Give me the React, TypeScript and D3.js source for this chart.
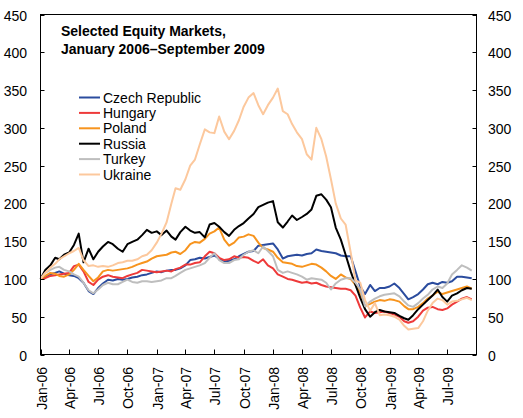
import React, { useEffect, useRef } from "react";
import * as d3 from "d3";

// index values, twice a month (1st and 16th), Jan 2006 - Sep 2009
const czech = [
  100, 103, 106, 108, 110, 107, 105, 104, 101, 95, 84, 80, 88, 94, 99, 98, 100, 99, 100, 102,
  103, 105, 106, 108, 110, 109, 111, 112, 112, 114, 118, 125, 126, 128, 127, 129, 131, 127, 123, 124,
  126, 130, 133, 136, 137, 144, 145, 146, 147, 139, 127, 130, 131, 132, 131, 133, 134, 139, 137, 136,
  135, 134, 131, 130, 130, 110, 90, 80, 92, 84, 88, 88, 90, 94, 88, 80, 73, 76, 80, 86,
  93, 95, 93, 96, 95, 97, 103, 103, 102, 101,
];
const hungary = [
  100, 101, 104, 105, 106, 107, 108, 117, 119, 110, 96, 92, 99, 103, 105, 103, 102, 101, 104, 106,
  108, 112, 111, 110, 109, 110, 111, 110, 113, 115, 119, 119, 121, 122, 130, 136, 134, 128, 125, 126,
  130, 128, 129, 128, 124, 121, 126, 118, 114, 106, 103, 100, 99, 97, 95, 96, 94, 95, 92, 90,
  89, 88, 87, 87, 85, 78, 62, 49, 57, 55, 56, 57, 55, 53, 50, 44, 42, 44, 50, 58,
  62, 63, 60, 59, 61, 66, 70, 74, 76, 73,
];
const poland = [
  100, 104, 108, 107, 104, 103, 106, 112, 120, 112, 104, 97, 102, 110, 112, 111, 112, 113, 114, 116,
  119, 121, 123, 127, 130, 131, 132, 135, 136, 133, 138, 146, 149, 148, 153, 160, 163, 168, 152, 144,
  148, 155, 156, 159, 157, 148, 141, 139, 136, 128, 122, 121, 120, 117, 116, 118, 120, 119, 115, 110,
  104, 100, 106, 102, 100, 92, 82, 64, 67, 70, 72, 71, 73, 72, 70, 64, 60, 60, 63, 68,
  74, 78, 83, 80, 82, 84, 86, 88, 90, 87,
];
const russia = [
  100, 112, 118, 128, 126, 132, 135, 145, 160, 122, 140, 126, 136, 143, 149, 146, 140, 136, 146, 149,
  152, 158, 165, 161, 163, 158, 164, 156, 152, 162, 169, 164, 161, 162, 155, 172, 174, 169, 162, 157,
  165, 170, 174, 180, 186, 195, 198, 201, 203, 175, 168, 176, 184, 178, 182, 186, 192, 210, 212, 205,
  195, 168, 152, 132, 110, 92, 75, 60, 50, 56, 59, 57, 56, 55, 51, 48, 46, 52, 60, 66,
  72, 78, 86, 76, 70, 78, 81, 85, 88, 87,
];
const turkey = [
  100, 108, 112, 115, 116, 112, 110, 106, 103, 95, 85, 81, 86, 92, 95, 93, 93, 96, 99, 96,
  95, 97, 97, 96, 97, 98, 101, 101, 104, 108, 112, 114, 116, 118, 121, 128, 134, 125, 121, 121,
  125, 126, 132, 136, 138, 134, 143, 137, 130, 112, 108, 110, 108, 106, 103, 99, 101, 100, 99, 95,
  86, 94, 99, 101, 101, 95, 86, 64, 70, 74, 77, 79, 80, 81, 77, 70, 65, 63, 68, 74,
  79, 86, 90, 88, 94, 106, 112, 118, 115, 111,
];
const ukraine = [
  100, 108, 115, 120, 126, 130, 134, 137, 141, 125, 117, 118, 116, 117, 116, 118, 121, 122, 124, 124,
  126, 130, 132, 138, 148, 160, 175, 200, 220, 218, 232, 250, 258, 278, 298, 294, 293, 315, 295, 285,
  296, 310, 328, 340, 346, 330, 318, 330, 340, 352, 322, 318, 305, 294, 285, 265, 258, 300, 285, 262,
  232, 200, 180, 172, 135, 98, 95, 72, 58, 68, 52, 53, 52, 50, 46, 38, 33, 34, 35, 44,
  58, 68, 74, 72, 66, 70, 71, 73, 75, 72,
];

const seriesNames = ["Czech Republic", "Hungary", "Poland", "Russia", "Turkey", "Ukraine"];
const seriesValues = [czech, hungary, poland, russia, turkey, ukraine];
const seriesColors = ["#2B4C9E", "#EE3A3A", "#F7941E", "#000000", "#BEBEBE", "#FCC89D"];
const yTicks = [0, 50, 100, 150, 200, 250, 300, 350, 400, 450];

function App() {
  const svgRef = useRef<SVGSVGElement>(null);

  useEffect(() => {
    const w = 523;
    const h = 418;
    const left = 40.5, right = 476.5, top = 14.5, bottom = 354.5;
    const font = "'Liberation Sans', Arial, sans-serif";

    const svg = d3.select(svgRef.current).attr("width", w).attr("height", h);
    svg.selectAll("*").remove();

    // semi-monthly dates
    const dates: Date[] = [];
    d3.timeMonth.range(new Date(2006, 0, 1), new Date(2009, 9, 1)).forEach((m) => {
      dates.push(m);
      dates.push(d3.timeDay.offset(m, 15));
    });

    const x = d3.scaleTime().domain([new Date(2006, 0, 1), new Date(2009, 9, 1)]).range([left, right]);
    const y = d3.scaleLinear().domain([0, 450]).range([bottom, top]);

    const line = d3
      .line<number>()
      .x((_, i) => x(dates[i]))
      .y((v) => y(v));

    svg
      .append("g")
      .selectAll("path")
      .data(seriesValues)
      .join("path")
      .attr("d", (d) => line(d))
      .attr("fill", "none")
      .attr("stroke", (_, i) => seriesColors[i])
      .attr("stroke-width", 2)
      .attr("stroke-linejoin", "round");

    // frame
    svg
      .append("rect")
      .attr("x", left)
      .attr("y", top)
      .attr("width", right - left)
      .attr("height", bottom - top)
      .attr("fill", "none")
      .attr("stroke", "#000")
      .attr("stroke-width", 1);

    // y ticks, both sides, pointing in
    const yAxis = svg.append("g").attr("font-family", font).attr("font-size", 14);
    yTicks.forEach((t) => {
      const yy = Math.round(y(t)) + 0.5;
      yAxis.append("line").attr("x1", left).attr("x2", left + 4).attr("y1", yy).attr("y2", yy).attr("stroke", "#000");
      yAxis.append("line").attr("x1", right - 4).attr("x2", right).attr("y1", yy).attr("y2", yy).attr("stroke", "#000");
      yAxis.append("text").attr("x", 27).attr("y", yy).attr("dy", "0.36em").attr("text-anchor", "end").text(t);
      yAxis.append("text").attr("x", 488).attr("y", yy).attr("dy", "0.36em").attr("text-anchor", "start").text(t);
    });

    // x ticks, quarterly
    const xTicks = d3.timeMonth.every(3)!.range(new Date(2006, 0, 1), new Date(2009, 9, 1));
    const fmt = d3.timeFormat("%b-%y");
    const xAxis = svg.append("g").attr("font-family", font).attr("font-size", 14);
    xTicks.forEach((d) => {
      const xx = Math.round(x(d)) + 0.5;
      xAxis.append("line").attr("x1", xx).attr("x2", xx).attr("y1", bottom).attr("y2", bottom - 5).attr("stroke", "#000");
      xAxis
        .append("text")
        .attr("transform", `translate(${xx},367) rotate(-90)`)
        .attr("dy", "0.36em")
        .attr("text-anchor", "end")
        .text(fmt(d));
    });

    // title
    const title = svg.append("g").attr("font-family", font).attr("font-size", 14).attr("font-weight", "bold");
    title.append("text").attr("x", 61).attr("y", 36).text("Selected Equity Markets,");
    title.append("text").attr("x", 61).attr("y", 54).text("January 2006\u2013September 2009");

    // legend
    const legend = svg.append("g").attr("font-family", font).attr("font-size", 14);
    seriesNames.forEach((name, i) => {
      const ly = 97.5 + i * 15.4;
      legend.append("line").attr("x1", 79).attr("x2", 100).attr("y1", ly).attr("y2", ly).attr("stroke", seriesColors[i]).attr("stroke-width", 2);
      legend.append("text").attr("x", 103).attr("y", ly).attr("dy", "0.36em").text(name);
    });
  }, []);

  return <svg ref={svgRef} style={{ position: "absolute", left: 0, top: 0 }}></svg>;
}

export default App;
